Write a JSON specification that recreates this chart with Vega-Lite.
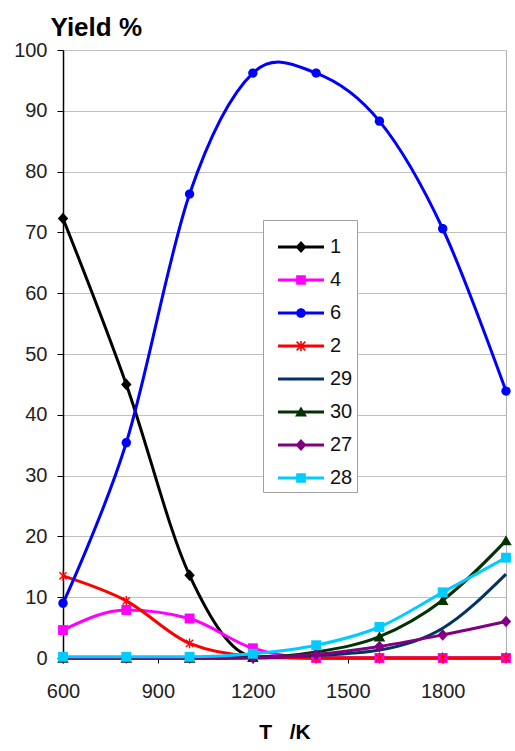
{
  "$schema": "https://vega.github.io/schema/vega-lite/v6.json",
  "width": 443,
  "height": 608,
  "autosize": {"type": "none"},
  "padding": {"left": 63, "top": 50, "right": 9, "bottom": 93},
  "background": "white",
  "config": {
    "font": "Liberation Sans",
    "view": {"stroke": "#b0b0b0", "strokeWidth": 1},
    "legend": {
      "orient": "none",
      "legendX": 200,
      "legendY": 170,
      "fillColor": "white",
      "strokeColor": "#a0a0a0",
      "padding": 4,
      "symbolSize": 400,
      "symbolOffset": 11,
      "rowPadding": 0,
      "labelFontSize": 20,
      "labelColor": "#111",
      "labelOffset": 6,
      "labelFont": "Liberation Sans"
    }
  },
  "data": {"values": [
    {"series": "1", "T": 600, "yield": 72.3},
    {"series": "1", "T": 800, "yield": 45.0},
    {"series": "1", "T": 1000, "yield": 13.6},
    {"series": "1", "T": 1200, "yield": 0.3},
    {"series": "1", "T": 1400, "yield": 0},
    {"series": "1", "T": 1600, "yield": 0},
    {"series": "1", "T": 1800, "yield": 0},
    {"series": "1", "T": 2000, "yield": 0},
    {"series": "4", "T": 600, "yield": 4.6},
    {"series": "4", "T": 800, "yield": 7.9},
    {"series": "4", "T": 1000, "yield": 6.5},
    {"series": "4", "T": 1200, "yield": 1.6},
    {"series": "4", "T": 1400, "yield": 0},
    {"series": "4", "T": 1600, "yield": 0},
    {"series": "4", "T": 1800, "yield": 0},
    {"series": "4", "T": 2000, "yield": 0},
    {"series": "6", "T": 600, "yield": 9.0},
    {"series": "6", "T": 800, "yield": 35.4},
    {"series": "6", "T": 1000, "yield": 76.3},
    {"series": "6", "T": 1200, "yield": 96.2},
    {"series": "6", "T": 1400, "yield": 96.2},
    {"series": "6", "T": 1600, "yield": 88.3},
    {"series": "6", "T": 1800, "yield": 70.6},
    {"series": "6", "T": 2000, "yield": 43.9},
    {"series": "2", "T": 600, "yield": 13.5},
    {"series": "2", "T": 800, "yield": 9.4},
    {"series": "2", "T": 1000, "yield": 2.4},
    {"series": "2", "T": 1200, "yield": 0.3},
    {"series": "2", "T": 1400, "yield": 0},
    {"series": "2", "T": 1600, "yield": 0},
    {"series": "2", "T": 1800, "yield": 0},
    {"series": "2", "T": 2000, "yield": 0},
    {"series": "29", "T": 600, "yield": 0},
    {"series": "29", "T": 800, "yield": 0},
    {"series": "29", "T": 1000, "yield": 0},
    {"series": "29", "T": 1200, "yield": 0.1},
    {"series": "29", "T": 1400, "yield": 0.4},
    {"series": "29", "T": 1600, "yield": 1.3},
    {"series": "29", "T": 1800, "yield": 4.9},
    {"series": "29", "T": 2000, "yield": 13.8},
    {"series": "30", "T": 600, "yield": 0},
    {"series": "30", "T": 800, "yield": 0},
    {"series": "30", "T": 1000, "yield": 0},
    {"series": "30", "T": 1200, "yield": 0.1},
    {"series": "30", "T": 1400, "yield": 1.0},
    {"series": "30", "T": 1600, "yield": 3.5},
    {"series": "30", "T": 1800, "yield": 9.5},
    {"series": "30", "T": 2000, "yield": 19.3},
    {"series": "27", "T": 600, "yield": 0},
    {"series": "27", "T": 800, "yield": 0},
    {"series": "27", "T": 1000, "yield": 0},
    {"series": "27", "T": 1200, "yield": 0},
    {"series": "27", "T": 1400, "yield": 0.6},
    {"series": "27", "T": 1600, "yield": 1.9},
    {"series": "27", "T": 1800, "yield": 3.8},
    {"series": "27", "T": 2000, "yield": 6.0},
    {"series": "28", "T": 600, "yield": 0.2},
    {"series": "28", "T": 800, "yield": 0.2},
    {"series": "28", "T": 1000, "yield": 0.2},
    {"series": "28", "T": 1200, "yield": 0.7},
    {"series": "28", "T": 1400, "yield": 2.1},
    {"series": "28", "T": 1600, "yield": 5.1},
    {"series": "28", "T": 1800, "yield": 10.8},
    {"series": "28", "T": 2000, "yield": 16.5}
  ]},
  "encoding": {
    "x": {
      "field": "T", "type": "quantitative",
      "scale": {"domain": [600, 2000], "nice": false, "zero": false},
      "axis": {
        "values": [600, 900, 1200, 1500, 1800],
        "format": "d",
        "grid": false,
        "title": "T\u00a0\u00a0\u00a0/K",
        "titleFontSize": 21,
        "titleFontWeight": "bold",
        "titleColor": "#000",
        "titlePadding": 20,
        "labelFontSize": 20,
        "labelColor": "#222",
        "labelPadding": 18,
        "tickSize": 5,
        "tickColor": "#000",
        "domainColor": "#000",
        "domainWidth": 1.5,
        "labelFlush": false
      }
    },
    "y": {
      "field": "yield", "type": "quantitative",
      "scale": {"domain": [0, 100], "nice": false},
      "axis": {
        "values": [0, 10, 20, 30, 40, 50, 60, 70, 80, 90, 100],
        "grid": true,
        "gridColor": "#c0c0c0",
        "gridWidth": 1.2,
        "title": "Yield %",
        "titleAngle": 0,
        "titleAlign": "left",
        "titleBaseline": "alphabetic",
        "titleX": -13,
        "titleY": -15,
        "titleFontSize": 26,
        "titleFontWeight": "bold",
        "titleColor": "#000",
        "labelFontSize": 20,
        "labelColor": "#222",
        "labelPadding": 10,
        "tickSize": 6,
        "tickColor": "#000",
        "domainColor": "#000",
        "domainWidth": 1.5
      }
    },
    "color": {
      "field": "series", "type": "nominal",
      "scale": {
        "domain": ["1", "4", "6", "2", "29", "30", "27", "28"],
        "range": ["#000000", "#FF00FF", "#0000FF", "#FF0000", "#003366", "#003300", "#800080", "#00CCFF"]
      },
      "legend": {
        "title": null,
        "encode": {
          "symbols": {
            "update": {
              "shape": {"signal": "['M-1,-0.065H1V0.065H-1Z M0,-0.26L0.24,0L0,0.26L-0.24,0Z', 'M-1,-0.065H1V0.065H-1Z M-0.21,-0.21H0.21V0.21H-0.21Z', 'M-1,-0.065H1V0.065H-1Z M-0.21,0A0.21,0.21,0,1,1,0.21,0A0.21,0.21,0,1,1,-0.21,0Z', 'M-1,-0.065H1V0.065H-1Z M-0.035,-0.22H0.035V0.22H-0.035Z M-0.165,-0.215L0.215,0.165L0.165,0.215L-0.215,-0.165Z M-0.215,0.165L0.165,-0.215L0.215,-0.165L-0.165,0.215Z', 'M-1,-0.065H1V0.065H-1Z', 'M-1,-0.065H1V0.065H-1Z M0,-0.24L0.26,0.2L-0.26,0.2Z', 'M-1,-0.065H1V0.065H-1Z M0,-0.26L0.24,0L0,0.26L-0.24,0Z', 'M-1,-0.065H1V0.065H-1Z M-0.21,-0.21H0.21V0.21H-0.21Z'][indexof(['1','4','6','2','29','30','27','28'], datum.value)]"},
              "size": {"value": 2116},
              "fill": {"signal": "scale('color', datum.value)"},
              "stroke": {"value": "transparent"},
              "strokeWidth": {"value": 0},
              "opacity": {"value": 1}
            }
          }
        }
      }
    }
  },
  "layer": [
    {
      "transform": [{"filter": "datum.series !== '6'"}],
      "mark": {"type": "line", "interpolate": "monotone", "strokeWidth": 3}
    },
    {
      "transform": [{"filter": "datum.series === '6'"}],
      "mark": {"type": "line", "interpolate": "cardinal", "strokeWidth": 3}
    },
    {
      "transform": [{"filter": "datum.series !== '29'"}],
      "mark": {
        "type": "point", "filled": true, "opacity": 1, "size": 121,
        "shape": {"expr": "['M0,-1.05L0.95,0L0,1.05L-0.95,0Z', 'M-0.9,-0.9H0.9V0.9H-0.9Z', 'M-0.85,0A0.85,0.85,0,1,1,0.85,0A0.85,0.85,0,1,1,-0.85,0Z', 'M-0.125,-0.9H0.125V0.9H-0.125Z M-0.562,-0.738L0.738,0.562L0.562,0.738L-0.738,-0.562Z M-0.738,0.562L0.562,-0.738L0.738,-0.562L-0.562,0.738Z', 'circle', 'M0,-1L1.05,0.85L-1.05,0.85Z', 'M0,-1.05L0.95,0L0,1.05L-0.95,0Z', 'M-0.9,-0.9H0.9V0.9H-0.9Z'][indexof(['1','4','6','2','29','30','27','28'], datum.series)]"}
      }
    }
  ]
}
